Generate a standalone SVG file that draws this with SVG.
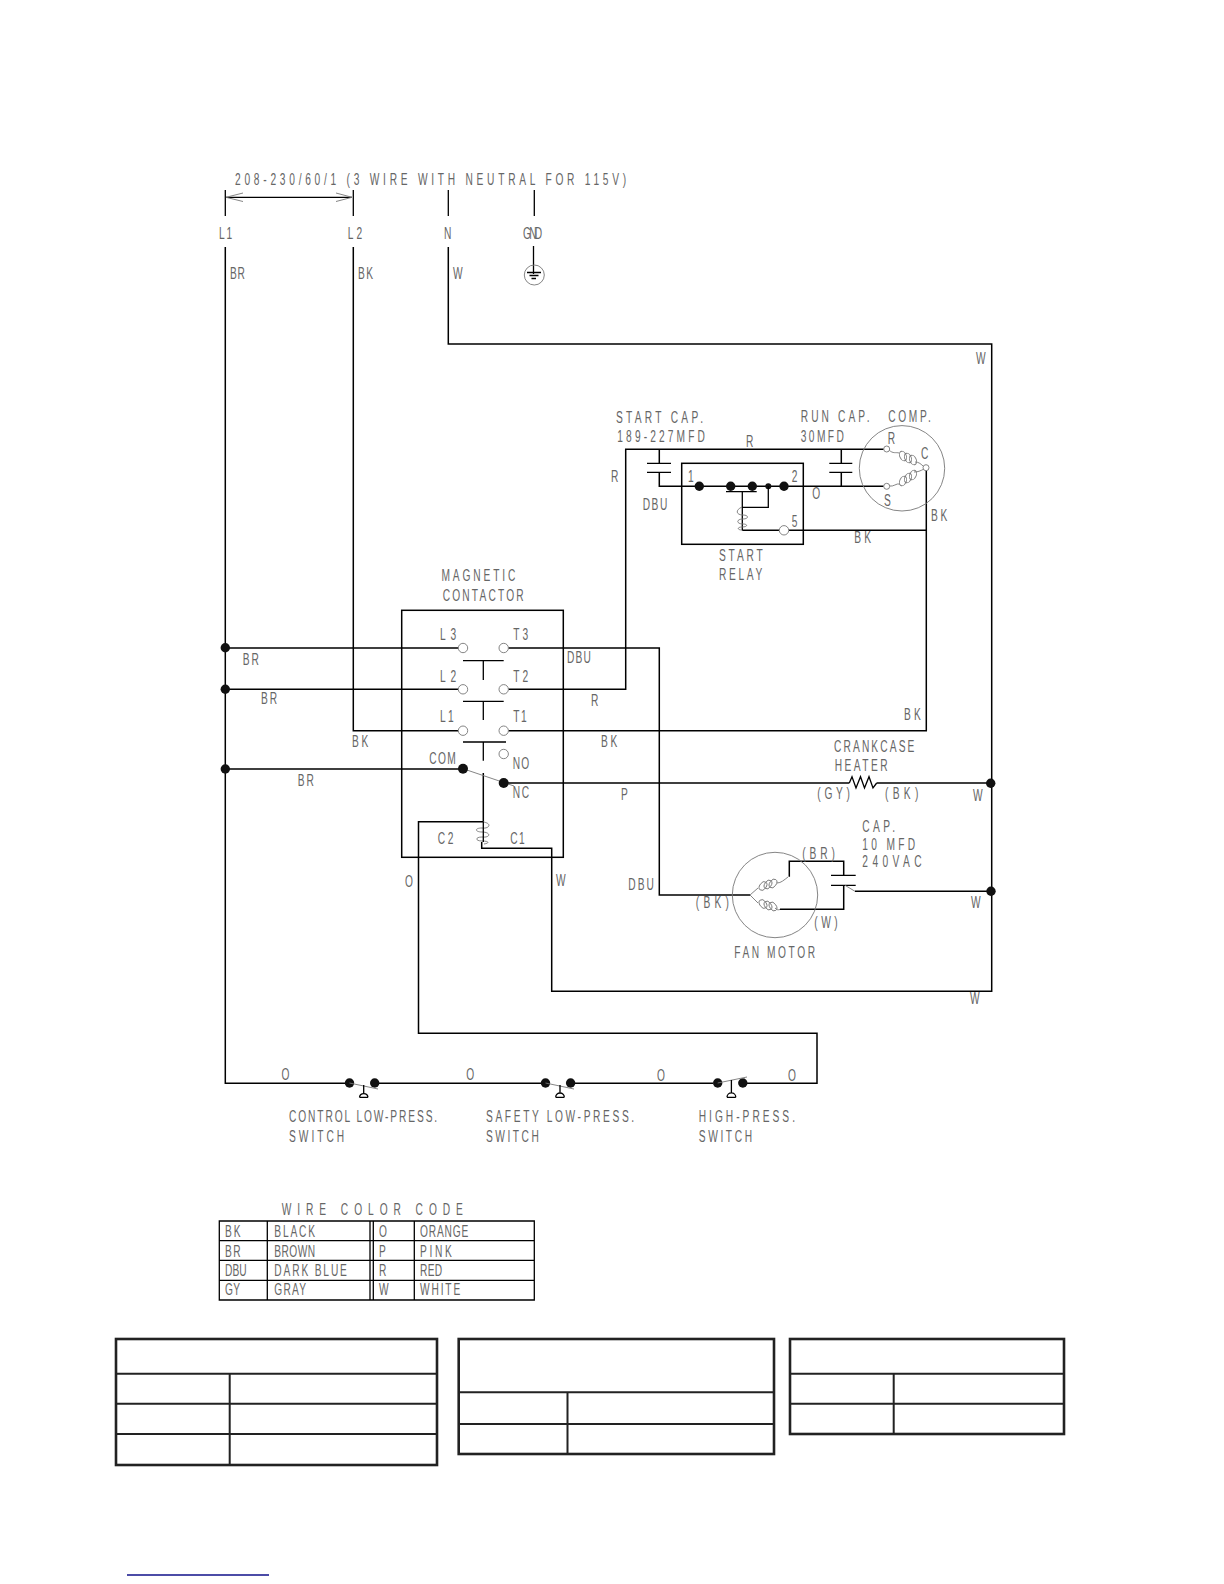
<svg xmlns="http://www.w3.org/2000/svg" width="1224" height="1584" viewBox="0 0 1224 1584">
<style>
text{font-family:"Liberation Sans",Arial,sans-serif;font-size:17px;fill:#666;transform-box:fill-box;transform-origin:0 0;transform:scaleX(.6)}
.w{fill:none;stroke:#000;stroke-width:1.5}
.g{fill:none;stroke:#777;stroke-width:.9}
.d{fill:#111;stroke:none}
.t{fill:#fff;stroke:#777;stroke-width:.9}
.b{fill:none;stroke:#222;stroke-width:2.6}
.i{fill:none;stroke:#222;stroke-width:2}
.c{fill:none;stroke:#000;stroke-width:1.3}
</style>
<rect width="1224" height="1584" fill="#fff"/>
<g id="connectors">
<path class="w" d="M225.3 247V1083.3H345M379 1083.3H541M575 1083.3H713M747 1083.3H817V1033.3H418.5V821.7H483.3"/>
<path class="w" d="M353.3 247V730.7H458.3"/>
<path class="w" d="M448.3 247V344H991.7V991.3H551.7V848.3H481.7V842"/>
<path class="w" d="M225.3 648H458.3M225.3 689.3H458.3M225.3 769H463"/>
<path class="w" d="M483.3 773V822"/>
<path class="w" d="M508.4 648H659.3V895H750"/>
<path class="w" d="M508.4 689.3H625.7V449.3H883.7"/>
<path class="w" d="M508.4 730.7H926.3V471"/>
<path class="w" d="M503.7 783H849.3M876.7 783H991.7"/>
<path class="w" d="M855 891.3H991.7"/>
<path class="w" d="M659.3 449.3V463.3M659.3 472.3V486.3H883.7M841.3 449.3V463.3M841.3 472.3V486.3"/>
<path class="w" d="M742.3 530.3H779.3M788.7 530.3H926.3"/>
<path class="w" d="M789.3 876.7V861.3H843.7V875.3M843.7 885.3V909.3H780"/>
</g>
<g id="supply">
<path class="c" d="M225.3 190V216M353.3 190V216M448.3 190V216M534.3 190V216"/>
<path class="c" d="M226 197.3H352"/>
<path class="g" d="M243 193L226 197.3L243 201.5M336 193L352 197.3L336 201.5"/>
<text x="235" y="185.3" textLength="652">208-230/60/1 (3 WIRE WITH NEUTRAL FOR 115V)</text>
<text x="219" y="238.7" textLength="22">L1</text>
<text x="347.7" y="238.7" textLength="24">L2</text>
<text x="444" y="238.7">N</text>
<text x="523" y="238.7" textLength="32">GND</text>
<text x="230" y="279.3" textLength="25">BR</text>
<text x="358" y="279.3" textLength="25">BK</text>
<text x="453" y="279.3">W</text>
</g>
<g id="ground">
<path class="c" d="M533.5 246V274M527 272.5H541M529.5 275.5H538.5M531.5 278.5H536"/>
<circle class="g" cx="534.3" cy="275" r="10"/>
</g>
<g id="junctions">
<circle class="d" cx="225.3" cy="647.7" r="4.7"/>
<circle class="d" cx="225.3" cy="689.3" r="4.7"/>
<circle class="d" cx="225.3" cy="769" r="4.7"/>
<circle class="d" cx="990.7" cy="783.3" r="4.7"/>
<circle class="d" cx="991" cy="891.3" r="4.7"/>
</g>
<g id="wire-labels">
<text x="242.7" y="664.7" textLength="27">BR</text>
<text x="261" y="704" textLength="27">BR</text>
<text x="352" y="746.7" textLength="27">BK</text>
<text x="297.7" y="785.7" textLength="27">BR</text>
<text x="567" y="663.3" textLength="40">DBU</text>
<text x="591" y="706">R</text>
<text x="601" y="746.7" textLength="27">BK</text>
<text x="904" y="720" textLength="28">BK</text>
<text x="621" y="800">P</text>
<text x="976" y="364">W</text>
<text x="611" y="482.3">R</text>
<text x="746" y="446.7">R</text>
<text x="642.7" y="510" textLength="41">DBU</text>
<text x="812.3" y="499.3">O</text>
<text x="931" y="521" textLength="27">BK</text>
<text x="854.3" y="543.3" textLength="28">BK</text>
<text x="973" y="800.7">W</text>
<text x="971" y="907.7">W</text>
<text x="970" y="1004.5">W</text>
<text x="405" y="886.7">O</text>
<text x="556" y="886">W</text>
<text x="628.3" y="890" textLength="42.5">DBU</text>
<text x="281.4" y="1080">O</text>
<text x="466.3" y="1080">O</text>
<text x="657" y="1081">O</text>
<text x="788" y="1081">O</text>
</g>
<g id="contactor">
<rect class="c" x="401.7" y="610.3" width="161.6" height="247" style="stroke-width:1.5"/>
<text x="441.5" y="581.5" textLength="123">MAGNETIC</text>
<text x="442.7" y="601" textLength="135">CONTACTOR</text>
<circle class="t" cx="463" cy="648" r="4.7"/><circle class="t" cx="503.7" cy="648" r="4.7"/>
<circle class="t" cx="463" cy="689.3" r="4.7"/><circle class="t" cx="503.7" cy="689.3" r="4.7"/>
<circle class="t" cx="463" cy="730.7" r="4.7"/><circle class="t" cx="503.7" cy="730.7" r="4.7"/>
<circle class="t" cx="503.7" cy="754" r="4.7"/>
<path class="c" d="M463 660.7H503.7M483.3 660.7V680M463 701.3H503.7M483.3 701.3V720M463 742H506M483.3 742V760.7"/>
<path class="g" d="M463 768.7L514 786"/>
<circle class="d" cx="463" cy="768.7" r="5"/><circle class="d" cx="503.7" cy="783" r="5"/>
<path class="g" d="M483 822C492 823 490 829 482 828C474 828 475 832 482 832C491 832 491 838 482 837C475 837 475 841 482 841C489 841 490 843 484 844"/>
<path class="c" d="M483.3 822V842"/>
<text x="440" y="640" textLength="27">L3</text><text x="513.3" y="640" textLength="25">T3</text>
<text x="440" y="681.7" textLength="27">L2</text><text x="513.3" y="681.7" textLength="25">T2</text>
<text x="440" y="722.3" textLength="23">L1</text><text x="513.3" y="722.3" textLength="22.5">T1</text>
<text x="429.3" y="764.3" textLength="44">COM</text>
<text x="512.7" y="769" textLength="27.5">NO</text>
<text x="512.7" y="798.3" textLength="27.5">NC</text>
<text x="437.7" y="843.7" textLength="26">C2</text>
<text x="510.3" y="843.7" textLength="24">C1</text>
</g>
<g id="start-cap">
<path class="c" d="M647 463.3H671M647 472.3H671"/>
<text x="616" y="423.3" textLength="145">START CAP.</text>
<text x="617.3" y="442.3" textLength="146">189-227MFD</text>
</g>
<g id="start-relay">
<rect class="c" x="681.7" y="463.3" width="121.6" height="81" style="stroke-width:1.5"/>
<circle class="d" cx="699.3" cy="486.3" r="4.7"/><circle class="d" cx="730.7" cy="486.3" r="4.7"/>
<circle class="d" cx="752.3" cy="486.3" r="4.7"/><circle class="d" cx="768.3" cy="486.3" r="3"/>
<circle class="d" cx="784" cy="486.3" r="4.7"/>
<path class="c" d="M726 491.7H756.7M742.3 491.7V530.3M742.3 507.3H768.3V486.3"/>
<path class="g" d="M742 507C735 510 736 515 743 515C749 515 749 519 743 519C736 519 736 524 743 524C748 524 748 527 742 527C737 527 737 530 742 530"/>
<circle class="t" cx="784" cy="530.3" r="4.7"/>
<text x="688" y="482.3">1</text>
<text x="791.7" y="482">2</text>
<text x="791.7" y="526.7">5</text>
<text x="719" y="560.7" textLength="73">START</text>
<text x="719" y="580.3" textLength="72">RELAY</text>
</g>
<g id="run-cap">
<path class="c" d="M829.3 463.3H852.3M829.3 472.3H852.3"/>
<text x="800.7" y="422.3" textLength="115">RUN CAP.</text>
<text x="800.7" y="441.7" textLength="72">30MFD</text>
</g>
<g id="compressor">
<circle class="g" cx="902" cy="468.3" r="42.7"/>
<path class="g" d="M889 450C893 454 896 452 899 453M915 462C919 462 921 464 924 467"/>
<ellipse class="g" cx="903" cy="456" rx="3.2" ry="5" transform="rotate(-25 903 456)"/>
<ellipse class="g" cx="908" cy="458" rx="3.2" ry="5" transform="rotate(-25 908 458)"/>
<ellipse class="g" cx="913" cy="460" rx="3.2" ry="5" transform="rotate(-25 913 460)"/>
<path class="g" d="M889 486C894 487 896 483 900 484M914 472C918 472 920 471 924 469"/>
<ellipse class="g" cx="903" cy="481" rx="3.2" ry="5" transform="rotate(25 903 481)"/>
<ellipse class="g" cx="908" cy="478" rx="3.2" ry="5" transform="rotate(25 908 478)"/>
<ellipse class="g" cx="913" cy="475" rx="3.2" ry="5" transform="rotate(25 913 475)"/>
<circle class="t" cx="886.7" cy="449" r="3"/><circle class="t" cx="886.7" cy="486.3" r="3"/><circle class="t" cx="926" cy="467.7" r="3"/>
<text x="888.3" y="422.3" textLength="71">COMP.</text>
<text x="887.7" y="444">R</text>
<text x="921" y="459">C</text>
<text x="884" y="506">S</text>
</g>
<g id="crankcase-heater">
<path class="c" d="M849.3 783L852 776.7L856 788L860.5 776.7L864.5 788L869 776.7L873 788L876.7 783"/>
<text x="834" y="751.7" textLength="134">CRANKCASE</text>
<text x="834.7" y="770.7" textLength="88">HEATER</text>
<text x="817.3" y="799.3" textLength="54.5">(GY)</text>
<text x="885" y="799.3" textLength="55.5">(BK)</text>
</g>
<g id="fan-motor">
<circle class="g" cx="775" cy="895" r="42.7"/>
<path class="g" d="M750 895L758 888M777 883C781 883 784 880 788 877"/>
<ellipse class="g" cx="763" cy="886" rx="3.2" ry="4.8" transform="rotate(35 763 886)"/>
<ellipse class="g" cx="768" cy="884.5" rx="3.2" ry="4.8" transform="rotate(35 768 884.5)"/>
<ellipse class="g" cx="773" cy="883.5" rx="3.2" ry="4.8" transform="rotate(35 773 883.5)"/>
<path class="g" d="M750 895L758 903M775 908C777 910 778 910 780 909.5"/>
<ellipse class="g" cx="763" cy="904" rx="3.2" ry="4.8" transform="rotate(-35 763 904)"/>
<ellipse class="g" cx="768" cy="905.5" rx="3.2" ry="4.8" transform="rotate(-35 768 905.5)"/>
<ellipse class="g" cx="773" cy="906.5" rx="3.2" ry="4.8" transform="rotate(-35 773 906.5)"/>
<path class="c" d="M831 875.3H855.7M831 885.3H855.7"/>
<path class="g" d="M845 885.3L855 891.3"/>
<text x="695.7" y="908.3" textLength="55.5">(BK)</text>
<text x="802.3" y="859" textLength="54.5">(BR)</text>
<text x="814.3" y="928.3" textLength="39">(W)</text>
<text x="862.3" y="831.7" textLength="54.5">CAP.</text>
<text x="862.3" y="850" textLength="88">10 MFD</text>
<text x="862.3" y="867.3" textLength="99">240VAC</text>
<text x="734.3" y="957.7" textLength="134.5">FAN MOTOR</text>
</g>
<g id="control-switch">
<circle class="d" cx="349.5" cy="1083" r="4.7"/><circle class="d" cx="374.7" cy="1083" r="4.7"/>
<path class="g" d="M349.5 1083L378 1089"/>
<path class="c" d="M363.7 1085V1093M359.5 1097.3H368M359.5 1097.3A4.3 4.3 0 0 1 368 1097.3"/>
<text x="289" y="1122.3" textLength="247">CONTROL LOW-PRESS.</text>
<text x="289" y="1142" textLength="92">SWITCH</text>
</g>
<g id="safety-switch">
<circle class="d" cx="545.5" cy="1083" r="4.7"/><circle class="d" cx="570.6" cy="1083" r="4.7"/>
<path class="g" d="M545.5 1083L574 1089"/>
<path class="c" d="M560 1085V1093M555.7 1097.3H564.3M555.7 1097.3A4.3 4.3 0 0 1 564.3 1097.3"/>
<text x="486" y="1122.3" textLength="247">SAFETY LOW-PRESS.</text>
<text x="486" y="1142" textLength="88">SWITCH</text>
</g>
<g id="high-press-switch">
<circle class="d" cx="717.7" cy="1083" r="4.7"/><circle class="d" cx="742.8" cy="1083" r="4.7"/>
<path class="g" d="M717.7 1083L747 1077"/>
<path class="c" d="M731.4 1080V1093M727 1097.3H735.8M727 1097.3A4.4 4.4 0 0 1 735.8 1097.3"/>
<text x="698.7" y="1122.3" textLength="160.5">HIGH-PRESS.</text>
<text x="698.7" y="1142" textLength="89">SWITCH</text>
</g>
<g id="wire-color-code">
<text x="281.7" y="1215" textLength="302">WIRE COLOR CODE</text>
<path class="c" d="M219.3 1221H534.3V1300H219.3ZM219.3 1240.7H534.3M219.3 1260.3H534.3M219.3 1280.3H534.3M267.3 1221V1300M370 1221V1300M373.3 1221V1300M414.3 1221V1300"/>
<text x="225" y="1236.7" textLength="26">BK</text><text x="274.3" y="1236.7" textLength="68">BLACK</text><text x="379" y="1236.7">O</text><text x="420" y="1236.7" textLength="80.5">ORANGE</text>
<text x="225" y="1256.7" textLength="26">BR</text><text x="274.3" y="1256.7" textLength="68">BROWN</text><text x="379" y="1256.7">P</text><text x="420" y="1256.7" textLength="53">PINK</text>
<text x="225" y="1276" textLength="36">DBU</text><text x="274.3" y="1276" textLength="121">DARK BLUE</text><text x="379" y="1276">R</text><text x="420" y="1276" textLength="37">RED</text>
<text x="225" y="1295.5" textLength="25">GY</text><text x="274.3" y="1295.5" textLength="53">GRAY</text><text x="379" y="1295.5">W</text><text x="420" y="1295.5" textLength="67">WHITE</text>
</g>
<g id="table-1">
<rect class="b" x="116" y="1339" width="321" height="126"/>
<path class="i" d="M116 1373.7H437M116 1403.7H437M116 1434H437M229.7 1373.7V1465"/>
</g>
<g id="table-2">
<rect class="b" x="458.7" y="1339" width="315.3" height="115"/>
<path class="i" d="M458.7 1392.3H774M458.7 1424H774M567.5 1392.3V1454"/>
</g>
<g id="table-3">
<rect class="b" x="790" y="1339" width="274" height="95"/>
<path class="i" d="M790 1373.7H1064M790 1403.7H1064M893.7 1373.7V1434"/>
</g>
<path id="blue-rule" d="M127 1575H269" fill="none" stroke="#10108a" stroke-width="1.4"/>
</svg>
